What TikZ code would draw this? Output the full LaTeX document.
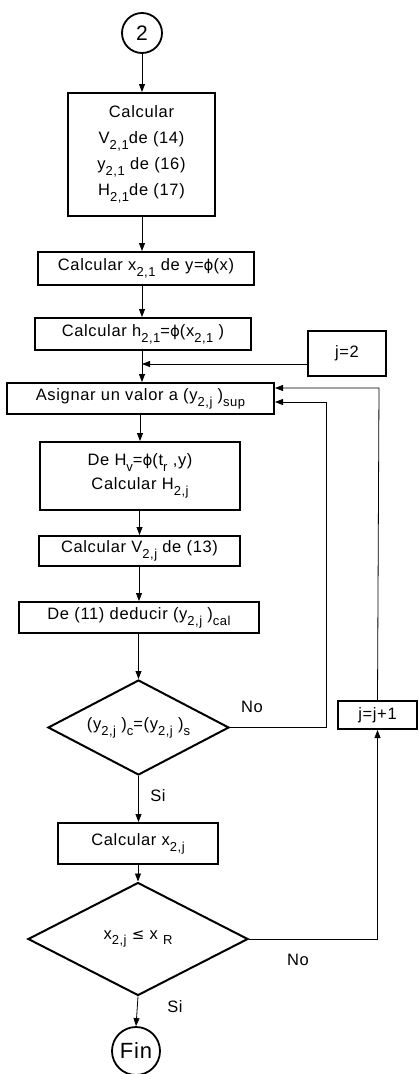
\documentclass[tikz,border=0pt]{standalone}
\usepackage{fontspec}
\setmainfont{Liberation Sans}[LetterSpace=4]
\newfontfamily\dv{DejaVu Sans}
\usetikzlibrary{shapes.geometric,arrows.meta}
\newcommand{\sbx}[1]{\raisebox{-0.35em}{\fontsize{13}{13}\selectfont #1}}
\newcommand{\ph}{{\dv\fontsize{15}{15}\selectfont ϕ}}
\newcommand{\lee}{{\dv\fontsize{15}{15}\selectfont ≤}}
\begin{document}
\begin{tikzpicture}[x=1pt,y=-1pt,
  every node/.style={font=\fontsize{16.5}{26}\selectfont},
  box/.style={draw,line width=2pt,rectangle,inner sep=0pt,align=center},
  dia/.style={draw,line width=2pt,diamond,inner sep=0pt,align=center},
  term/.style={draw,line width=1.8pt,circle,inner sep=0pt,font=\fontsize{21}{21}\selectfont},
  conn/.style={line width=0.8pt},
  arr/.style={conn,-{Triangle[length=8pt,width=6pt]}},
  lab/.style={font=\fontsize{16.5}{16.5}\selectfont}]
\useasboundingbox (0,0) rectangle (418,1074);
\node[term,minimum size=40pt] (c2) at (142,33) {2};
\node[box,minimum width=147pt,minimum height=123pt] (b1) at (141.5,154.5)
  {Calcular\\V\sbx{2,1}de (14)\\y\sbx{2,1} de (16)\\H\sbx{2,1}de (17)};
\node[box,minimum width=216pt,minimum height=33pt] (b2) at (146,268.5)
  {Calcular x\sbx{2,1} de y=\ph(x)};
\node[box,minimum width=216pt,minimum height=32pt] (b3) at (143,334)
  {Calcular h\sbx{2,1}=\ph(x\sbx{2,1} )};
\node[box,minimum width=78pt,minimum height=45pt] (j2) at (347,353.5) {j=2};
\node[box,minimum width=267pt,minimum height=31pt] (b4) at (140.5,398.5)
  {Asignar un valor a (y\sbx{2,j} )\sbx{sup}};
\node[box,minimum width=200pt,minimum height=68pt,font=\fontsize{16.5}{24}\selectfont] (b5) at (140,476)
  {De H\sbx{v}=\ph(t\sbx{r} ,y)\\Calcular H\sbx{2,j}};
\node[box,minimum width=201pt,minimum height=30pt] (b6) at (139.5,551)
  {Calcular V\sbx{2,j} de (13)};
\node[box,minimum width=240pt,minimum height=31pt] (b7) at (139,617.5)
  {De (11) deducir (y\sbx{2,j} )\sbx{cal}};
\node[dia,minimum width=181pt,minimum height=95pt,shape aspect=1.9] (d1) at (138.5,727.5)
  {(y\sbx{2,j} )\sbx{c}=(y\sbx{2,j} )\sbx{s}};
\node[box,minimum width=79pt,minimum height=28pt] (jj) at (377.5,715) {j=j+1};
\node[box,minimum width=160pt,minimum height=41pt] (b8) at (138,843.5)
  {Calcular x\sbx{2,j}};
\node[dia,minimum width=220pt,minimum height=113pt,shape aspect=1.95] (d2) at (138,939)
  {x\sbx{2,j} \lee\ x \sbx{R}};
\node[term,minimum size=48pt,font=\fontsize{22}{22}\selectfont] (fin) at (136,1051) {Fin};
\node[lab] (no1) at (252,707) {No};
\node[lab] (si1) at (158,796) {Si};
\node[lab] (no2) at (298,960) {No};
\node[lab] (si2) at (175,1007) {Si};
\coordinate (m1) at (142,364);
\coordinate (r1) at (326,402);
\coordinate (r2) at (379,388);
% main flow
\draw[arr] (c2.south) -- (c2.south |- b1.north);
\draw[arr] (b1.south -| 142,0) -- (142,0 |- b2.north);
\draw[arr] (b2.south -| 142,0) -- (142,0 |- b3.north);
\draw[arr] (b3.south -| 142,0) -- (142,0 |- b4.north);
\draw[arr] (j2.west |- m1) -- (m1);
\draw[arr] (b4.south -| 140,0) -- (140,0 |- b5.north);
\draw[arr] (b5.south -| 139.5,0) -- (139.5,0 |- b6.north);
\draw[arr] (b6.south -| 139,0) -- (139,0 |- b7.north);
\draw[arr] (b7.south -| 138.5,0) -- (d1.north);
\draw[arr] (d1.south) -- (d1.south |- b8.north);
\draw[arr] (b8.south -| 138,0) -- (d2.north);
\draw[arr] (d2.south) -- (fin.north);
% loops
\draw[arr] (d1.east) -| (r1) -- (b4.east |- r1);
\draw[arr] (d2.east) -| (jj.south);
\draw[arr] (jj.north) -- (r2) -- (b4.east |- r2);
\end{tikzpicture}
\end{document}
